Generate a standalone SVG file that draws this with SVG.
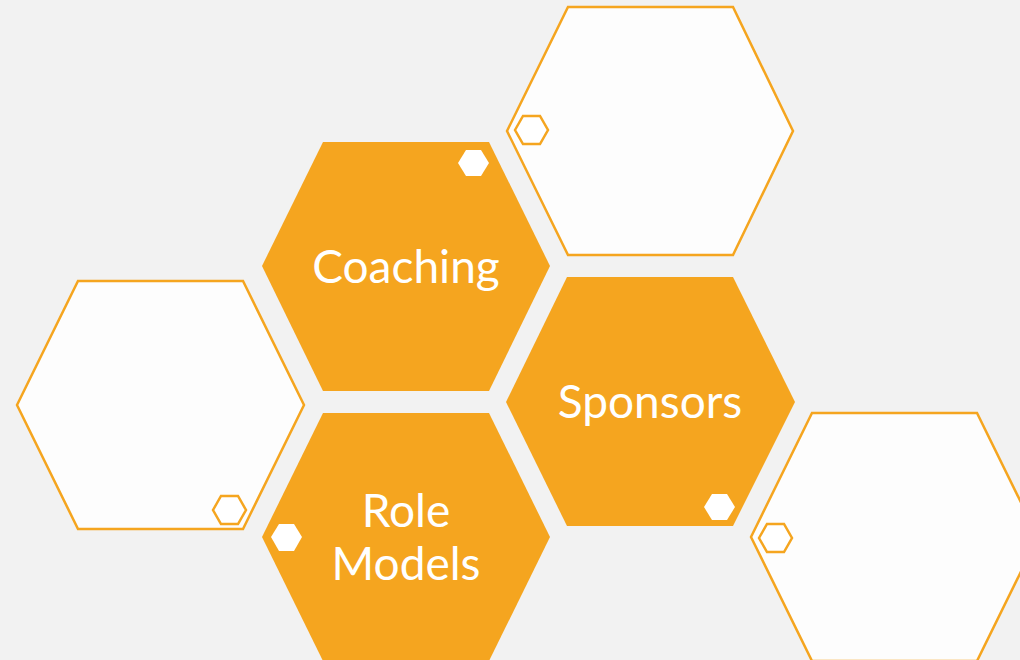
<svg xmlns="http://www.w3.org/2000/svg" width="1020" height="660" viewBox="0 0 1020 660">
<style>
.big{fill:#F5A51F}
.out{fill:#FDFDFD;stroke:#F5A51F;stroke-width:2.5}
.dot{fill:#FFFFFF}
.dotout{fill:#FFFFFF;stroke:#F5A51F;stroke-width:2.5}
.lbl{font-family:Lato,"Open Sans",sans-serif;font-size:46px;fill:#FFFFFF;text-anchor:middle}
</style>
<rect width="1020" height="660" fill="#F2F2F2"/>
<g id="hex-top-white">
<polygon class="out" points="507,131 568,7 733,7 793,131 733,255 568,255"/>
<polygon class="dotout" points="515,130 523,116 540,116 548,130 540,144 523,144"/>
</g>
<g id="hex-left-white">
<polygon class="out" points="17,405 78,281 243,281 304,405 243,529 78,529"/>
<polygon class="dotout" points="213,510 221,496 238,496 246,510 238,524 221,524"/>
</g>
<g id="hex-bottomright-white">
<polygon class="out" points="751,537 812,413 977,413 1038,537 977,661 812,661"/>
<polygon class="dotout" points="759,538 767,524 784,524 792,538 784,552 767,552"/>
</g>
<g id="hex-coaching">
<polygon class="big" points="262,266 323,142 489,142 550,266 489,391 323,391"/>
<polygon class="dot" points="458,163 466,150 481,150 489,163 481,176 466,176"/>
<text class="lbl" x="406" y="283">Coaching</text>
</g>
<g id="hex-sponsors">
<polygon class="big" points="506,402 567,277 733,277 795,402 733,526 567,526"/>
<polygon class="dot" points="704,507 712,494 727,494 735,507 727,520 712,520"/>
<text class="lbl" x="650" y="418">Sponsors</text>
</g>
<g id="hex-rolemodels">
<polygon class="big" points="262,537 323,413 489,413 550,537 489,661 323,661"/>
<polygon class="dot" points="271,537 279,524 294,524 302,537 294,551 279,551"/>
<text class="lbl" x="406" y="527">Role</text>
<text class="lbl" x="406" y="580">Models</text>
</g>
<g id="connectors"></g>
</svg>
